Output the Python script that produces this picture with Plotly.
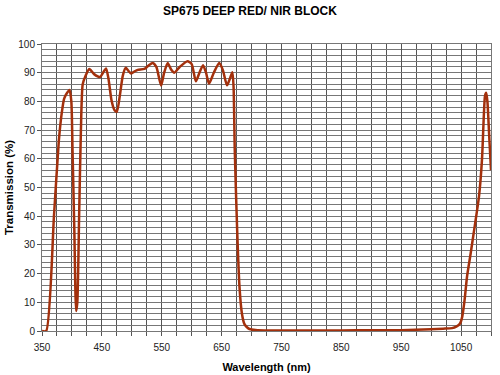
import plotly.graph_objects as go

wavelength = [350, 357, 370, 378, 383, 387, 392, 396, 399, 401, 404, 407, 409, 412, 415, 418,
              423, 429, 437, 447, 452, 457, 461, 466, 471, 475, 480, 485, 490, 495, 499, 505, 510,
              521, 528, 535, 541, 549, 554, 560, 566, 571, 580, 593, 600, 607, 613, 619, 624, 629,
              637, 646, 652, 659, 664, 668, 670, 672, 676, 680, 684, 688, 694, 700, 710, 750, 850,
              900, 950, 1000, 1020, 1035, 1042, 1048, 1052, 1056, 1060, 1066, 1071, 1076, 1080,
              1085, 1088, 1090, 1092, 1094, 1097, 1100]
transmission = [0, 0, 40, 66, 76, 81, 83, 84, 80, 63, 35, 7, 10, 40, 70, 86,
                89, 91.3, 89.5, 88.5, 90, 91.5, 88, 80.5, 77, 76.4, 82, 89, 91.7, 90.5, 89.7, 90.5, 91,
                91.3, 92.5, 93.4, 92, 85.5, 90, 93.4, 91, 90, 92, 94, 93, 87, 90, 92.6, 90, 86.2,
                90, 93.4, 91, 85.6, 88, 90.2, 85, 63, 35, 15, 6, 2.5, 1, 0.5, 0.3, 0.2, 0.2,
                0.3, 0.3, 0.6, 0.8, 1, 1.5, 2.5, 5, 11, 19, 27, 34, 41, 47,
                60, 75, 82, 83, 80, 68, 56]

x_tick_vals = [350, 450, 550, 650, 750, 850, 950, 1050]
y_tick_vals = [0, 10, 20, 30, 40, 50, 60, 70, 80, 90, 100]

FONT = "Liberation Sans, Arial, sans-serif"

fig = go.Figure()
fig.add_trace(go.Scatter(
    x=wavelength, y=transmission, mode="lines",
    line=dict(color="#A3300C", width=2.5, shape="spline", smoothing=0.6),
    hoverinfo="skip", showlegend=False,
))

fig.update_layout(
    width=500, height=375,
    margin=dict(l=42, r=9, t=44, b=44),
    paper_bgcolor="white", plot_bgcolor="white",
    font=dict(family=FONT, color="#000000", size=10),
    title=dict(text="<b>SP675 DEEP RED/ NIR BLOCK</b>", x=0.5, xanchor="center",
               y=0.983, yanchor="top", font=dict(family=FONT, size=12, color="#000")),
)
fig.update_xaxes(
    range=[350, 1100], tickmode="array", tickvals=x_tick_vals,
    showgrid=True, gridcolor="#555", gridwidth=1,
    minor=dict(dtick=25, tick0=350, showgrid=True, gridcolor="#555", gridwidth=1,
               ticks="outside", ticklen=4, tickcolor="#555"),
    ticks="outside", ticklen=4, tickcolor="#555",
    showline=True, linecolor="#777", linewidth=1, mirror=True,
    zeroline=False, automargin=False, ticklabelstandoff=3,
    tickfont=dict(size=10, family=FONT, color="#222"),
    title=dict(text="<b>Wavelength (nm)</b>", font=dict(size=11, family=FONT), standoff=11),
)
fig.update_yaxes(
    range=[0, 100], tickmode="array", tickvals=y_tick_vals,
    showgrid=True, gridcolor="#777", gridwidth=1,
    minor=dict(dtick=2, tick0=0, showgrid=True, gridcolor="#777", gridwidth=1),
    ticks="outside", ticklen=4, tickcolor="#555",
    showline=True, linecolor="#777", linewidth=1, mirror=True,
    zeroline=False, automargin=False,
    tickfont=dict(size=10, family=FONT, color="#222"),
    title=dict(text="<b>Transmission (%)</b>", font=dict(size=11.5, family=FONT), standoff=2),
)

fig.write_html("out.html", config={"displayModeBar": False},
               post_script="document.body.style.margin='0';")
